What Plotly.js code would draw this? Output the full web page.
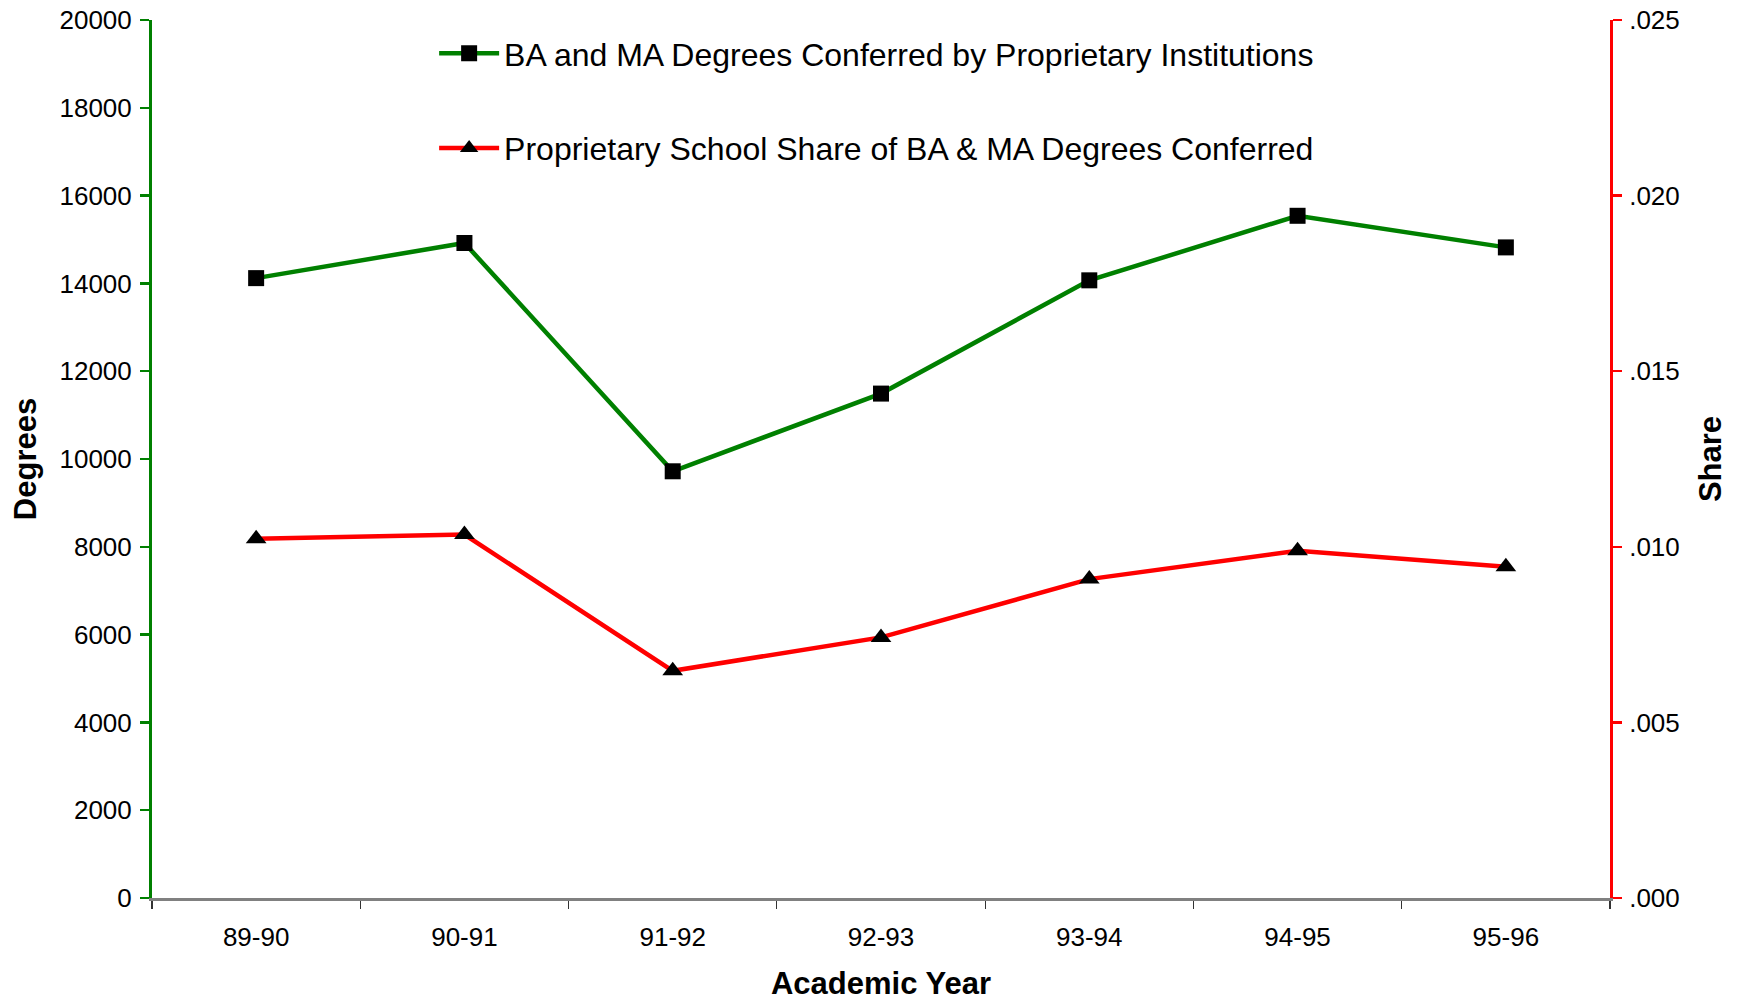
<!DOCTYPE html>
<html>
<head>
<meta charset="utf-8">
<script src="https://cdn.plot.ly/plotly-3.0.1.min.js"></script>
<style>
  html, body { margin: 0; padding: 0; background: #ffffff; }
  #chart { width: 1737px; height: 1002px; }
</style>
</head>
<body>
<div id="chart"></div>
<script>
// ---- data ----
const academicYears = ["89-90", "90-91", "91-92", "92-93", "93-94", "94-95", "95-96"];
const degreesConferred = [14120, 14920, 9720, 11490, 14070, 15540, 14820];
const proprietaryShare = [0.01023, 0.01035, 0.00647, 0.00742, 0.00908, 0.00989, 0.00943];
const degreesTicks = [0, 2000, 4000, 6000, 8000, 10000, 12000, 14000, 16000, 18000, 20000];
const shareTicks = [0, 0.005, 0.010, 0.015, 0.020, 0.025];
const shareTickText = shareTicks.map(v => v.toFixed(3).replace(/^0/, ""));
const seriesNames = [
  "BA and MA Degrees Conferred by Proprietary Institutions",
  "Proprietary School Share of BA & MA Degrees Conferred"
];

const FONT = "Liberation Sans, Arial, sans-serif";
const GREEN = "#008000";
const RED = "#ff0000";
const boundaryTicks = academicYears.map((_, i) => i - 0.5).concat([academicYears.length - 0.5]);

const traces = [
  {
    x: academicYears, y: degreesConferred, name: seriesNames[0],
    type: "scatter", mode: "lines+markers", xaxis: "x", yaxis: "y",
    line: { color: GREEN, width: 4.5 },
    marker: { symbol: "square", size: 16, color: "#000000" },
    legend: "legend"
  },
  {
    x: academicYears, y: proprietaryShare, name: seriesNames[1],
    type: "scatter", mode: "lines+markers", xaxis: "x", yaxis: "y2",
    line: { color: RED, width: 4.5 },
    marker: { symbol: "triangle-up", size: 18, color: "#000000" },
    legend: "legend2"
  }
];

const legendCommon = {
  xref: "paper", yref: "paper", xanchor: "left", yanchor: "middle",
  bgcolor: "rgba(0,0,0,0)", borderwidth: 0,
  font: { family: FONT, size: 32, color: "#000000" },
  itemwidth: 60
};

const layout = {
  width: 1737, height: 1002,
  paper_bgcolor: "#ffffff", plot_bgcolor: "#ffffff",
  margin: { l: 152, r: 127, t: 20, b: 104 },
  font: { family: FONT, color: "#000000" },
  showlegend: true,
  legend: Object.assign({}, legendCommon, { x: 0.1935, y: 0.962 }),
  legend2: Object.assign({}, legendCommon, { x: 0.1935, y: 0.854 }),
  xaxis: {
    type: "category", range: [-0.5, academicYears.length - 0.5],
    showline: true, linecolor: "#808080", linewidth: 2.5,
    ticks: "outside", tickson: "boundaries", ticklen: 8, tickcolor: "#333333", tickwidth: 1.2,
    showgrid: false, zeroline: false,
    tickfont: { family: FONT, size: 26, color: "#000000" },
    ticklabelstandoff: 14,
    title: { text: "Academic Year", font: { family: FONT, size: 31, color: "#000000", weight: "bold" }, standoff: 22 }
  },
  xaxis2: {
    overlaying: "x", anchor: "y", side: "bottom",
    range: [-0.5, academicYears.length - 0.5],
    tickmode: "array", tickvals: boundaryTicks,
    ticks: "inside", ticklen: 8, tickcolor: "#333333", tickwidth: 1.2,
    showticklabels: false, showline: false, showgrid: false, zeroline: false
  },
  yaxis: {
    range: [0, 20000], tickmode: "array", tickvals: degreesTicks, tickformat: "d",
    showline: true, linecolor: GREEN, linewidth: 3,
    ticks: "outside", ticklen: 9, tickcolor: GREEN, tickwidth: 2.5,
    showgrid: false, zeroline: false,
    tickfont: { family: FONT, size: 26, color: "#000000" },
    ticklabelstandoff: 3,
    title: { text: "Degrees", font: { family: FONT, size: 31, color: "#000000", weight: "bold" }, standoff: 14 }
  },
  yaxis3: {
    overlaying: "y", anchor: "x", side: "left",
    range: [0, 20000], tickmode: "array", tickvals: degreesTicks,
    ticks: "inside", ticklen: 9, tickcolor: GREEN, tickwidth: 2.5,
    showticklabels: false, showline: false, showgrid: false, zeroline: false
  },
  yaxis2: {
    overlaying: "y", side: "right", anchor: "x",
    range: [0, 0.025], tickmode: "array", tickvals: shareTicks, ticktext: shareTickText,
    showline: true, linecolor: RED, linewidth: 3,
    ticks: "outside", ticklen: 9, tickcolor: RED, tickwidth: 2.5,
    showgrid: false, zeroline: false,
    tickfont: { family: FONT, size: 26, color: "#000000" },
    ticklabelstandoff: 2,
    title: { text: "Share", font: { family: FONT, size: 31, color: "#000000", weight: "bold" }, standoff: 21 }
  },
  yaxis4: {
    overlaying: "y", anchor: "x", side: "right",
    range: [0, 0.025], tickmode: "array", tickvals: shareTicks,
    ticks: "inside", ticklen: 9, tickcolor: RED, tickwidth: 2.5,
    showticklabels: false, showline: false, showgrid: false, zeroline: false
  }
};

Plotly.newPlot("chart", traces, layout, { displayModeBar: false, staticPlot: true });
</script>
</body>
</html>
